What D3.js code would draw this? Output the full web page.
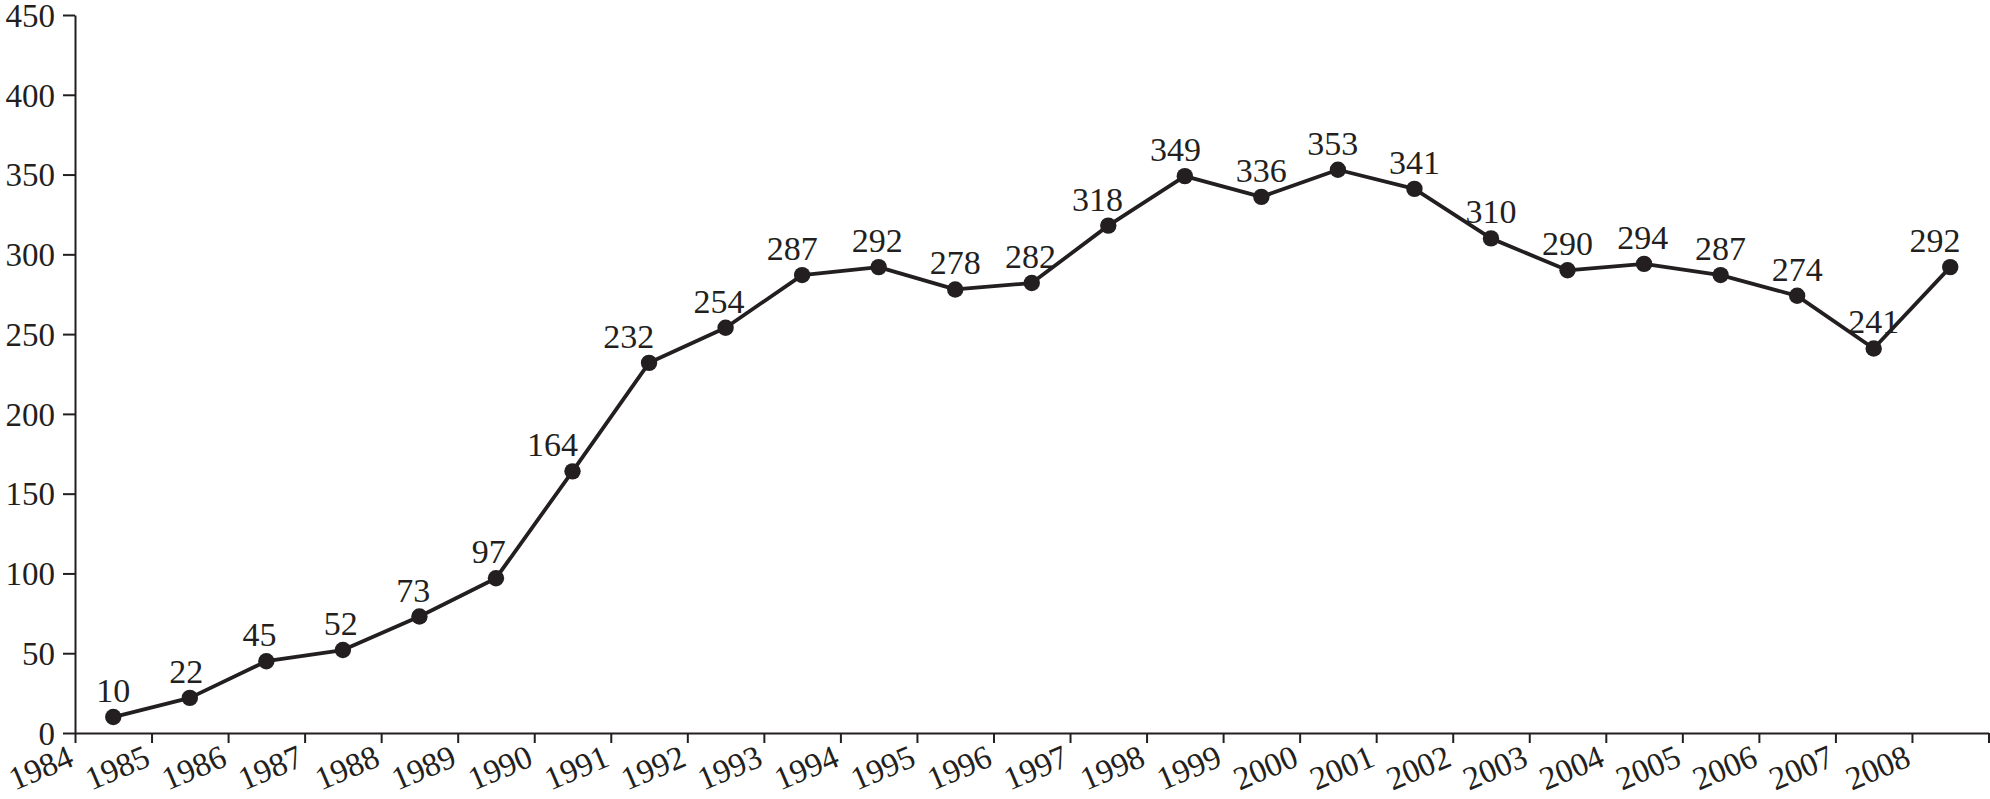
<!DOCTYPE html>
<html>
<head>
<meta charset="utf-8">
<script src="https://cdn.jsdelivr.net/npm/d3@7"></script>
<style>
  html, body { margin: 0; padding: 0; background: #fff; }
  svg { display: block; }
  text { font-family: "Liberation Serif", "Times New Roman", serif; fill: #231f20; }
</style>
</head>
<body>
<svg id="chart" width="1990" height="799"></svg>
<script>
const years = [1984,1985,1986,1987,1988,1989,1990,1991,1992,1993,1994,1995,1996,1997,1998,1999,2000,2001,2002,2003,2004,2005,2006,2007,2008];
const values = [10,22,45,52,73,97,164,232,254,287,292,278,282,318,349,336,353,341,310,290,294,287,274,241,292];
const yTicks = [0,50,100,150,200,250,300,350,400,450];

const ink = "#231f20";
const svg = d3.select("#chart");
const plotLeft = 75, plotRight = 1988.5, plotTop = 15, plotBottom = 733;

const x = d3.scaleLinear().domain([1984, 2009]).range([plotLeft, plotRight]);
const y = d3.scaleLinear().domain([0, 450]).range([plotBottom, plotTop]);

// Y axis
const yAxis = d3.axisLeft(y).tickValues(yTicks).tickSize(12).tickPadding(8).tickSizeOuter(0);
const gy = svg.append("g").attr("transform", `translate(${plotLeft},0)`).call(yAxis);
gy.selectAll("text").attr("font-size", 33).attr("font-family", "Liberation Serif").attr("fill", ink).attr("dy", "0.34em");
gy.selectAll("line").attr("stroke", ink).attr("stroke-width", 2);
gy.select(".domain").attr("stroke", ink).attr("stroke-width", 2);

// X axis
const xTickVals = d3.range(1984, 2010);
const xAxis = d3.axisBottom(x).tickValues(xTickVals).tickSize(10).tickSizeOuter(0)
  .tickFormat(d => d <= 2008 ? String(d) : "");
const gx = svg.append("g").attr("transform", `translate(0,${plotBottom})`).call(xAxis);
gx.selectAll("line").attr("stroke", ink).attr("stroke-width", 2);
gx.select(".domain").attr("stroke", ink).attr("stroke-width", 2);
gx.selectAll("text")
  .attr("font-size", 33).attr("font-family", "Liberation Serif").attr("fill", ink)
  .attr("text-anchor", "end")
  .attr("y", 0).attr("dy", 0)
  .attr("transform", "translate(0,32) rotate(-23)");

// Line
const pts = years.map((yr, i) => ({yr, v: values[i], rise: i > 0 ? values[i] - values[i - 1] : 0}));
const line = d3.line().x(d => x(d.yr + 0.5)).y(d => y(d.v));
svg.append("path").datum(pts)
  .attr("d", line).attr("fill", "none").attr("stroke", ink).attr("stroke-width", 3.8)
  .attr("stroke-linejoin", "round");

// Points
svg.append("g").selectAll("circle").data(pts).join("circle")
  .attr("cx", d => x(d.yr + 0.5)).attr("cy", d => y(d.v)).attr("r", 8.2).attr("fill", ink);

// Value labels (nudged left where the line climbs steeply into the point)
svg.append("g").selectAll("text").data(pts).join("text")
  .attr("x", d => x(d.yr + 0.5) - Math.min(22, Math.max(0, d.rise * 0.3)))
  .attr("y", d => y(d.v) - 15)
  .attr("text-anchor", "middle").attr("font-size", 34).attr("fill", ink)
  .text(d => d.v);
</script>
</body>
</html>
